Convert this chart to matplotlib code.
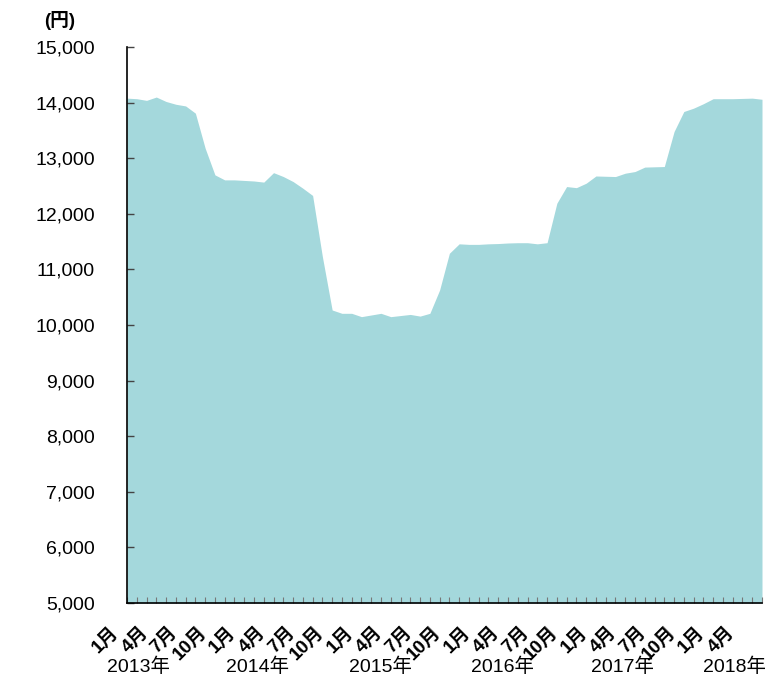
import matplotlib
matplotlib.use('Agg')
import matplotlib.pyplot as plt
import numpy as np

# Monthly values, Jan 2013 - Jun 2018 (yen)
prices = [14080, 14070, 14040, 14100, 14020, 13970, 13940, 13810, 13180, 12700,
          12610, 12610, 12600, 12590, 12570, 12740, 12670, 12580, 12460, 12330,
          11230, 10270, 10210, 10210, 10150, 10180, 10210, 10150, 10170, 10190,
          10160, 10210, 10630, 11290, 11460, 11450, 11450, 11460, 11465, 11475,
          11480, 11480, 11460, 11480, 12190, 12490, 12470, 12550, 12680, 12675,
          12670, 12730, 12760, 12840, 12845, 12850, 13480, 13840, 13900, 13980,
          14070, 14070, 14070, 14075, 14080, 14060]
month_tick_labels = ['1月', '4月', '7月', '10月']
year_labels = ['2013年', '2014年', '2015年', '2016年', '2017年', '2018年']
year_label_pos = [1.2, 13.4, 26.0, 38.4, 50.7, 62.2]
y_ticks = [5000, 6000, 7000, 8000, 9000, 10000, 11000, 12000, 13000, 14000, 15000]
unit_label = '(円)'

FILL = '#A4D8DC'
FONTS = ['Liberation Sans', 'Noto Sans CJK JP', 'DejaVu Sans']

fig = plt.figure(figsize=(7.76, 6.78), dpi=100)
ax = fig.add_axes([127/776, 75/678, 635/776, 556/678])

x = np.arange(len(prices))
ax.fill_between(x, y_ticks[0], prices, color=FILL, lw=0, zorder=1)
ax.set_xlim(0, len(prices) - 1)
ax.set_ylim(y_ticks[0], y_ticks[-1])

ax.set_yticks(y_ticks)
ax.set_yticklabels([f'{v:,}' for v in y_ticks], family=FONTS, fontsize=14)
ax.tick_params(axis='y', direction='in', length=5, width=1, color='#444444', pad=23)

ax.set_xticks(x)
ax.set_xticklabels([])
ax.tick_params(axis='x', direction='in', length=4, width=0.8, color='#777777')

for s in ['top', 'right']:
    ax.spines[s].set_visible(False)
for s in ['left', 'bottom']:
    ax.spines[s].set_color('black')
    ax.spines[s].set_linewidth(1.2)
    ax.spines[s].set_zorder(3)

for i in range(0, len(prices), 3):
    ax.annotate(month_tick_labels[(i // 3) % 4], xy=(i, 0),
                xycoords=('data', 'axes fraction'), xytext=(-8, -19),
                textcoords='offset points', ha='right', va='center',
                rotation=45, rotation_mode='anchor', fontsize=13.5,
                fontweight='bold', family=FONTS, annotation_clip=False)

for lab, pos in zip(year_labels, year_label_pos):
    ax.annotate(lab, xy=(pos, 0), xycoords=('data', 'axes fraction'),
                xytext=(0, -46), textcoords='offset points', ha='center',
                va='center', fontsize=14, family=FONTS, annotation_clip=False)

fig.text(60/776, 1 - 21/678, unit_label, ha='center', va='center',
         fontsize=13.5, fontweight='bold', family=FONTS)

fig.savefig('out.png', dpi=100)
